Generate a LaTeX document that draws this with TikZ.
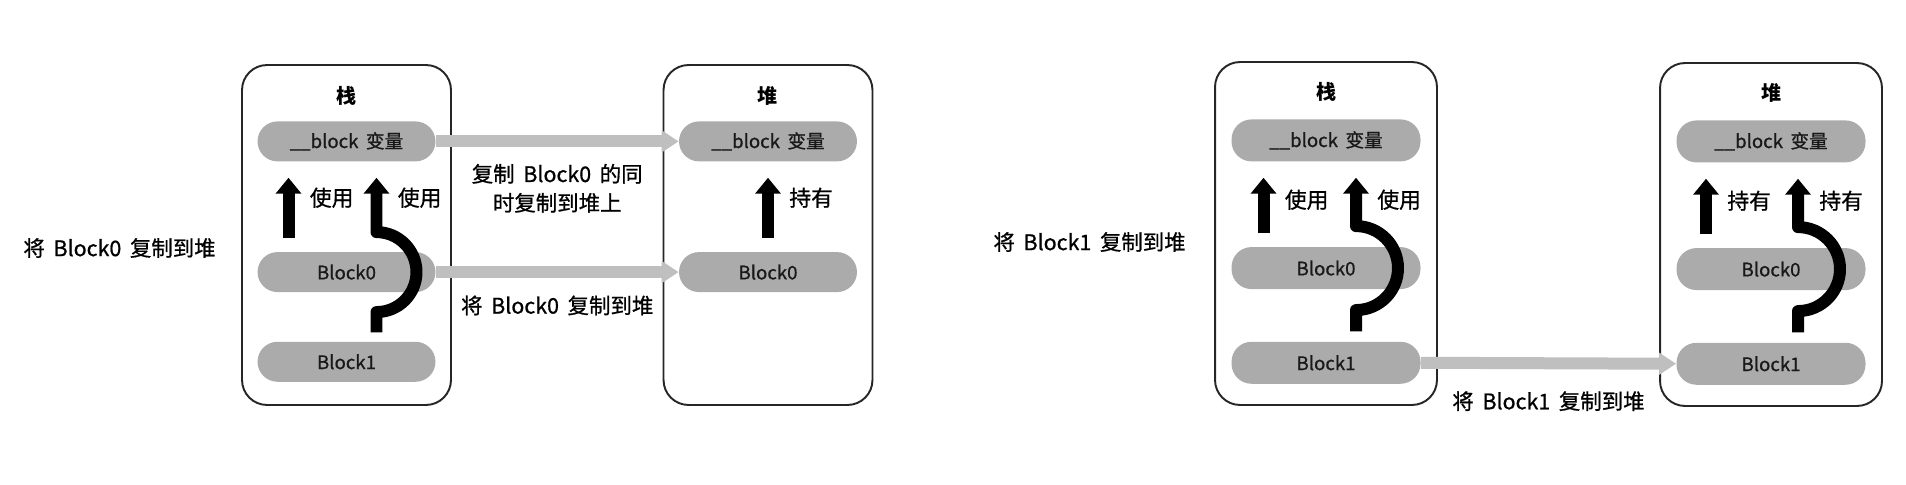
\documentclass[tikz,border=0pt]{standalone}
\usepackage{fontspec}
\setmainfont{Noto Sans CJK SC}[WordSpace=1.8]
\newfontfamily\medfont{Noto Sans CJK SC}[WordSpace=1.8, FakeBold=0.8]
\usetikzlibrary{arrows.meta, positioning}

\begin{document}
\begin{tikzpicture}[
        x=0.02cm, y=0.02cm,
        frame/.style={rectangle, rounded corners=0.5cm, draw=black!85, line width=1.1pt, minimum width=4.18cm, minimum height=6.8cm},
        title/.style={inner sep=0pt, font=\bfseries\fontsize{11.4}{13}\selectfont},
        pill/.style={rectangle, rounded corners=0.4cm, fill=black!33, text=black!90, minimum width=3.56cm, minimum height=0.8cm, inner sep=0pt, font=\medfont\fontsize{10.6}{12}\selectfont},
        note/.style={align=center, inner sep=0pt, font=\medfont\fontsize{12.2}{16.5}\selectfont},
        uselabel/.style={anchor=west, inner sep=0pt, font=\medfont\fontsize{12.4}{14}\selectfont},
        usearrow/.style={line width=0.24cm, line join=round, -{Triangle[width=0.5cm, length=0.32cm]}},
        copyarrow/.style={line width=0.24cm, draw=black!25, -{Triangle[width=0.42cm, length=0.34cm]}}
    ]
        \useasboundingbox (0,0) rectangle (1906,484);

        % Step 1: copy Block0 to the heap
        \node (stackA) [frame] at (346.5,249) {};
        \node (heapA) [frame] at (768,249) {};
        \node (stepA) [note, left=0.5cm of stackA, yshift=-0.26cm] {将 Block0 复制到堆};

        \node (stackAtitle) [title, below=0.44cm of stackA.north] {栈};
        \node (varA) [pill, below=1.14cm of stackA.north] {\_\_block 变量};
        \node (blkA0) [pill, below=1.8cm of varA] {Block0};
        \node (blkA1) [pill, below=0.98cm of blkA0] {Block1};

        \node (heapAtitle) [title, below=0.44cm of heapA.north] {堆};
        \node (varHA) [pill, below=1.14cm of heapA.north] {\_\_block 变量};
        \node (blkHA0) [pill, below=1.8cm of varHA] {Block0};

        % Uses inside step 1
        \draw [usearrow, shorten <=0.28cm, shorten >=0.32cm] ([xshift=-1.16cm]blkA0.north) -- ([xshift=-1.16cm]varA.south);
        \draw [usearrow, shorten >=0.32cm] ([xshift=0.6cm, yshift=0.18cm]blkA1.north) -- ([xshift=0.6cm, yshift=-0.8cm]blkA0.center) arc[start angle=-90, end angle=90, radius=0.8cm] -- ([xshift=0.6cm]varA.south);
        \draw [usearrow, shorten <=0.28cm, shorten >=0.32cm] (blkHA0.north) -- (varHA.south);
        \node (useA1) [uselabel] at ([xshift=-0.74cm, yshift=-0.72cm]varA.south) {使用};
        \node (useA2) [uselabel] at ([xshift=1.02cm, yshift=-0.72cm]varA.south) {使用};
        \node (holdA) [uselabel] at ([xshift=0.42cm, yshift=-0.72cm]varHA.south) {持有};

        % Copies of step 1
        \draw [copyarrow] (varA.east) -- node (copyvarA) [note, below=0.33cm] {复制 Block0 的同\\时复制到堆上} (varHA.west);
        \draw [copyarrow] (blkA0.east) -- node (copyblkA) [note, below=0.35cm] {将 Block0 复制到堆} (blkHA0.west);

        % Step 2: copy Block1 to the heap
        \node (stackB) [frame, minimum width=4.44cm, minimum height=6.86cm] at (1326,250.5) {};
        \node (heapB) [frame, minimum width=4.44cm, minimum height=6.86cm] at (1771,249.5) {};
        \node (stepB) [note, left=0.56cm of stackB, yshift=-0.17cm] {将 Block1 复制到堆};

        \node (stackBtitle) [title, below=0.42cm of stackB.north] {栈};
        \node (varB) [pill, minimum width=3.78cm, minimum height=0.84cm, below=1.16cm of stackB.north] {\_\_block 变量};
        \node (blkB0) [pill, minimum width=3.78cm, minimum height=0.84cm, below=1.7cm of varB] {Block0};
        \node (blkB1) [pill, minimum width=3.78cm, minimum height=0.84cm, below=1.04cm of blkB0] {Block1};

        \node (heapBtitle) [title, below=0.42cm of heapB.north] {堆};
        \node (varHB) [pill, minimum width=3.78cm, minimum height=0.84cm, below=1.16cm of heapB.north] {\_\_block 变量};
        \node (blkHB0) [pill, minimum width=3.78cm, minimum height=0.84cm, below=1.7cm of varHB] {Block0};
        \node (blkHB1) [pill, minimum width=3.78cm, minimum height=0.84cm, below=1.04cm of blkHB0] {Block1};

        % Uses inside step 2
        \draw [usearrow, shorten <=0.28cm, shorten >=0.32cm] ([xshift=-1.25cm]blkB0.north) -- ([xshift=-1.25cm]varB.south);
        \draw [usearrow, shorten >=0.32cm] ([xshift=0.6cm, yshift=0.2cm]blkB1.north) -- ([xshift=0.6cm, yshift=-0.84cm]blkB0.center) arc[start angle=-90, end angle=90, radius=0.84cm] -- ([xshift=0.6cm]varB.south);
        \draw [usearrow, shorten <=0.28cm, shorten >=0.32cm] ([xshift=-1.3cm]blkHB0.north) -- ([xshift=-1.3cm]varHB.south);
        \draw [usearrow, shorten >=0.32cm] ([xshift=0.54cm, yshift=0.2cm]blkHB1.north) -- ([xshift=0.54cm, yshift=-0.84cm]blkHB0.center) arc[start angle=-90, end angle=90, radius=0.84cm] -- ([xshift=0.54cm]varHB.south);
        \node (useB1) [uselabel] at ([xshift=-0.83cm, yshift=-0.76cm]varB.south) {使用};
        \node (useB2) [uselabel] at ([xshift=1.02cm, yshift=-0.76cm]varB.south) {使用};
        \node (holdB1) [uselabel] at ([xshift=-0.88cm, yshift=-0.76cm]varHB.south) {持有};
        \node (holdB2) [uselabel] at ([xshift=0.96cm, yshift=-0.76cm]varHB.south) {持有};

        % Copy of step 2
        \draw [copyarrow] (blkB1.east) -- node (copyblkB) [note, below=0.44cm] {将 Block1 复制到堆} (blkHB1.west);

    \end{tikzpicture}
\end{document}
